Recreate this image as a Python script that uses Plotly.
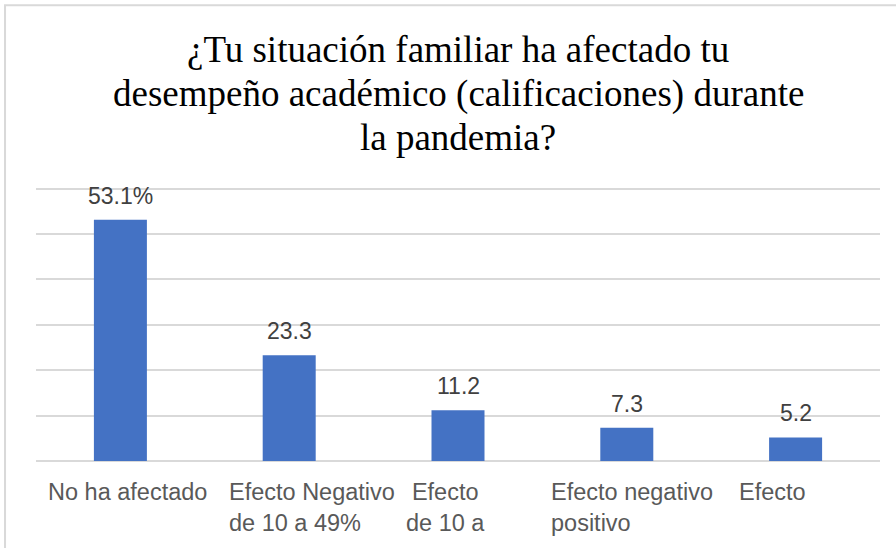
import plotly.graph_objects as go

# survey answers and their shares (%)
categories = [
    "No ha afectado",
    "Efecto Negativo<br>de 10 a 49%",
    "Efecto<br>de 10 a",
    "Efecto negativo<br>positivo",
    "Efecto",
]
values = [53.1, 23.3, 11.2, 7.3, 5.2]
value_labels = ["53.1%", "23.3", "11.2", "7.3", "5.2"]

title_lines = [
    "¿Tu situación familiar ha afectado tu",
    "desempeño académico (calificaciones) durante",
    "la pandemia?",
]

BAR_COLOR = "#4472C4"
GRID_COLOR = "#D9D9D9"
TEXT_COLOR = "#595959"
SERIF = '"Liberation Serif", "Times New Roman", Times, serif'
SANS = '"Liberation Sans", Arial, sans-serif'

# Excel wrapped the category labels a bit off-centre; mimic that
label_align = ["center", "left", "center", "left", "center"]
label_xshift = [7, 23, -13, 5, -23]

fig = go.Figure()
fig.add_trace(
    go.Bar(
        x=categories,
        y=values,
        marker=dict(color=BAR_COLOR, line=dict(width=0)),
        hoverinfo="x+y",
    )
)

# data labels above each bar
for cat, val, lab in zip(categories, values, value_labels):
    fig.add_annotation(
        x=cat, y=val, text=lab, showarrow=False,
        yanchor="bottom", yshift=9,
        font=dict(family=SANS, size=23, color="#404040"),
    )

# category labels under the axis
for cat, al, dx in zip(categories, label_align, label_xshift):
    fig.add_annotation(
        x=cat, y=0, yref="paper", text=cat, showarrow=False,
        xanchor="center", yanchor="top", align=al,
        xshift=dx, yshift=-16,
        font=dict(family=SANS, size=23.5, color=TEXT_COLOR),
    )

# title, one line per annotation (Excel spacing is tighter than plotly's)
for i, line in enumerate(title_lines):
    fig.add_annotation(
        text=line, xref="paper", yref="paper",
        x=0.5, y=1.485 - i * 0.159,
        xanchor="center", yanchor="middle", showarrow=False,
        font=dict(family=SERIF, size=37, color="#000000"),
    )

# chart border (left/top visible in the reference)
fig.add_shape(
    type="rect", xref="paper", yref="paper",
    x0=-0.0367, x1=1.2, y0=-0.5, y1=1.645,
    line=dict(color=GRID_COLOR, width=2), fillcolor="rgba(0,0,0,0)",
    layer="below",
)

fig.update_layout(
    width=896,
    height=548,
    margin=dict(l=36, r=16, t=184, b=87),
    paper_bgcolor="white",
    plot_bgcolor="white",
    showlegend=False,
    bargap=0.686,
    xaxis=dict(
        showgrid=False,
        showline=False,
        ticks="",
        showticklabels=False,
    ),
    yaxis=dict(
        range=[0, 61],
        tick0=0,
        dtick=10,
        showticklabels=False,
        showgrid=True,
        gridcolor=GRID_COLOR,
        gridwidth=2,
        zeroline=True,
        zerolinecolor=GRID_COLOR,
        zerolinewidth=2,
    ),
)

# drop the default page margin so the figure sits at the window origin
fig.write_html(
    "out.html",
    config={"displayModeBar": False},
    post_script="document.body.style.margin='0';",
)
